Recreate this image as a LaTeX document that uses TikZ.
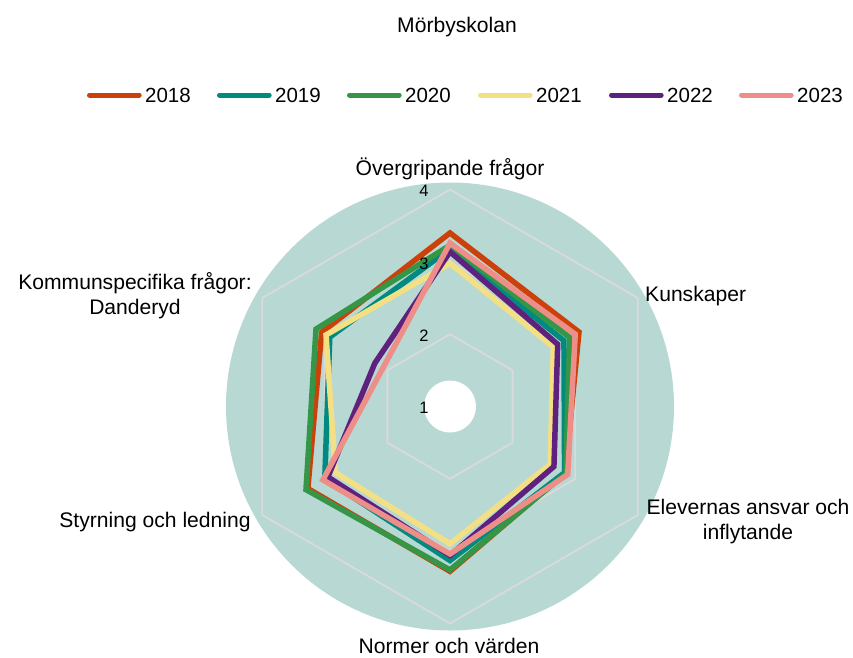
\documentclass[tikz,border=0pt]{standalone}
\usepackage{fontspec}
\setmainfont{Liberation Sans}
\usepackage{tikz}

\definecolor{c2018}{RGB}{204,65,10}
\definecolor{c2019}{RGB}{0,138,128}
\definecolor{c2020}{RGB}{52,150,70}
\definecolor{c2021}{RGB}{244,224,132}
\definecolor{c2022}{RGB}{94,34,126}
\definecolor{c2023}{RGB}{238,142,136}
\definecolor{disc}{RGB}{184,216,212}
\definecolor{gridgray}{RGB}{218,218,218}

\tikzset{
  series/.style={line width=5.5pt},
  keyline/.style={line width=5pt, line cap=round},
  gridline/.style={gridgray, line width=1.8pt},
  txt/.style={font=\fontsize{20.5}{25}\selectfont, inner sep=3.3pt},
  axtxt/.style={font=\fontsize{21.1}{25}\selectfont, inner sep=3.3pt},
  tick/.style={font=\fontsize{16.5}{18}\selectfont, inner sep=0pt}
}

\begin{document}
\begin{tikzpicture}[x=1pt,y=1pt]
\useasboundingbox (-450,-250.5) rectangle (403,406.5);

% Title
\node[axtxt] (title) at (7,379.5) {Mörbyskolan};

% Legend
\foreach \yr/\xs in {2018/-363, 2019/-233, 2020/-103, 2021/28, 2022/159, 2023/289} {
    \coordinate (k\yr) at (\xs+2.5,311.5);
    \node[txt, anchor=west] (t\yr) at (\xs+54.7,311.5) {\yr};
    \draw[keyline, c\yr] (k\yr) -- ([xshift=-2.5pt]t\yr.west);
}

% Background disc
\fill[disc] (0,0) circle (224);

% Grid hexagons
\foreach \v in {2,3,4} {
    \pgfmathsetmacro{\r}{(\v-1)*72.3}
    \draw[gridline] (90:\r) -- (30:\r) -- (-30:\r) -- (-90:\r) -- (-150:\r) -- (150:\r) -- cycle;
}

% Series, one polygon per year
\foreach \yr/\a/\b/\c/\d/\e/\f in {
    2018/3.40/3.06/2.84/3.28/3.27/3.05,
    2019/3.18/2.82/2.83/3.13/3.00/2.92,
    2020/3.23/2.91/2.85/3.26/3.30/3.14,
    2021/2.98/2.65/2.60/2.90/2.83/2.98,
    2022/3.14/2.72/2.66/3.06/2.95/2.20,
    2023/3.26/3.00/2.88/3.04/3.03/2.07} {
    \draw[series, c\yr] (90:{(\a-1)*72.3}) -- (30:{(\b-1)*72.3}) -- (-30:{(\c-1)*72.3})
        -- (-90:{(\d-1)*72.3}) -- (-150:{(\e-1)*72.3}) -- (150:{(\f-1)*72.3}) -- cycle;
}

% Hole in the middle
\fill[white] (0,0) circle (26);

% Scale labels
\foreach \v in {1,2,3,4} {
    \node[tick] (v\v) at (-26,{(\v-1)*72.3-1.5}) {\v};
}

% Axis labels
\node[axtxt] (ax1) at (0,237.5) {Övergripande frågor};
\node[axtxt, anchor=west] (ax2) at (191.7,110.5) {Kunskaper};
\node[axtxt, align=center] (ax3) at (298,-115.5) {Elevernas ansvar och\\inflytande};
\node[axtxt] (ax4) at (-1,-239.5) {Normer och värden};
\node[axtxt] (ax5) at (-295,-115.5) {Styrning och ledning};
\node[axtxt, align=center] (ax6) at (-315,110.5) {Kommunspecifika frågor:\\Danderyd};
\end{tikzpicture}
\end{document}
